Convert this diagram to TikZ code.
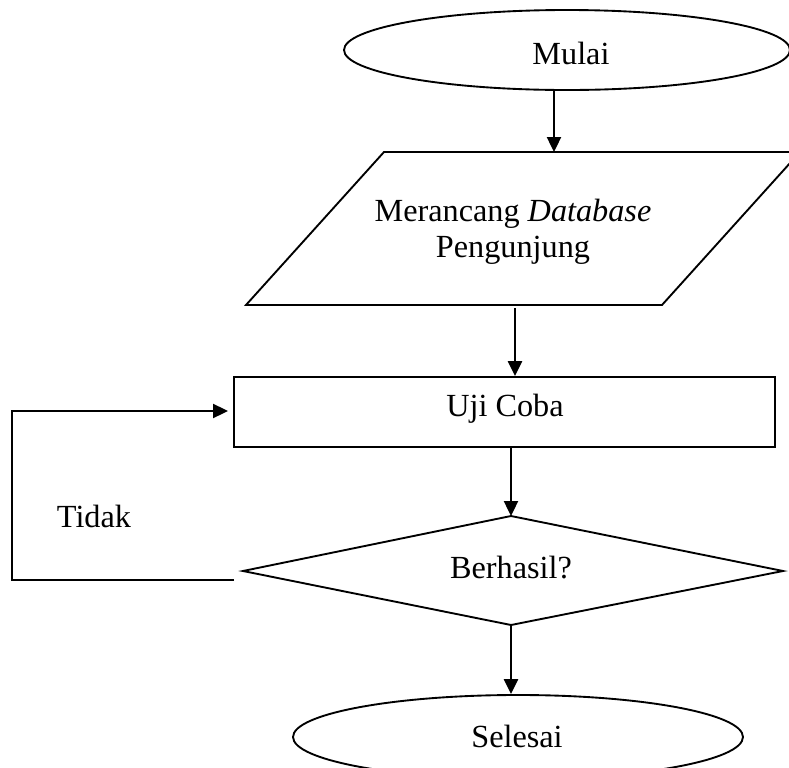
\documentclass[tikz,border=0pt]{standalone}
\usepackage{fontspec}
\setmainfont{Liberation Serif}
\usetikzlibrary{shapes.geometric,arrows.meta}
\begin{document}
\begin{tikzpicture}[x=0.4pt,y=-0.4pt,
  outline/.style={draw,line width=0.75pt,inner sep=0pt},
  arr/.style={line width=0.95pt,-{Triangle[length=6pt,width=5.6pt]}},
  fbline/.style={line width=0.8pt,-{Triangle[length=6pt,width=5.6pt]}},
  lbl/.style={anchor=base,inner sep=0pt,font=\fontsize{12.9}{15}\selectfont}]
\useasboundingbox (0,0) rectangle (789,768);
\clip (0,0) rectangle (789,768);
% Mulai
\node[outline,ellipse,minimum width=178.4pt,minimum height=32pt] (mulai) at (567,50) {};
\node[lbl] (tmulai) at (571,64) {Mulai};
% parallelogram
\coordinate (pTL) at (384,152);
\coordinate (pTR) at (800,152);
\coordinate (pBR) at (662,305);
\coordinate (pBL) at (246,305);
\draw[line width=0.75pt] (pTL) -- (pTR) -- (pBR) -- (pBL) -- cycle;
\node[lbl] (tmer) at (513,221) {Merancang \textit{Database}};
\node[lbl] (tpeng) at (513,257) {Pengunjung};
\coordinate (a1s) at (554,90);
\draw[arr] (a1s) -- (a1s |- pTL);
% Uji Coba
\node[outline,rectangle,minimum width=216.4pt,minimum height=28pt] (uji) at (504.5,412) {};
\node[lbl] (tuji) at (505,416) {Uji Coba};
\coordinate (a2s) at (515,308);
\draw[arr] (a2s) -- (a2s |- uji.north);
% diamond
\coordinate (dT) at (511,516);
\coordinate (dR) at (783,571);
\coordinate (dB) at (511,625);
\coordinate (dL) at (243,571);
\draw[line width=0.75pt] (dT) -- (dR) -- (dB) -- (dL) -- cycle;
\node[lbl] (tber) at (511,578) {Berhasil?};
\draw[arr] (uji.south -| dT) -- (dT);
% Selesai
\node[outline,ellipse,minimum width=180pt,minimum height=33.6pt] (selesai) at (518,737) {};
\node[lbl] (tsel) at (517,747) {Selesai};
\draw[arr] (dB) -- (dB |- selesai.north);
% feedback
\coordinate (f1) at (234,580);
\coordinate (f2) at (12,580);
\coordinate (f3) at (12,411);
\draw[fbline,shorten >=2pt] (f1) -- (f2) -- (f3) -- (f3 -| uji.west);
\node[lbl] (ttidak) at (94,527) {Tidak};
\end{tikzpicture}
\end{document}
